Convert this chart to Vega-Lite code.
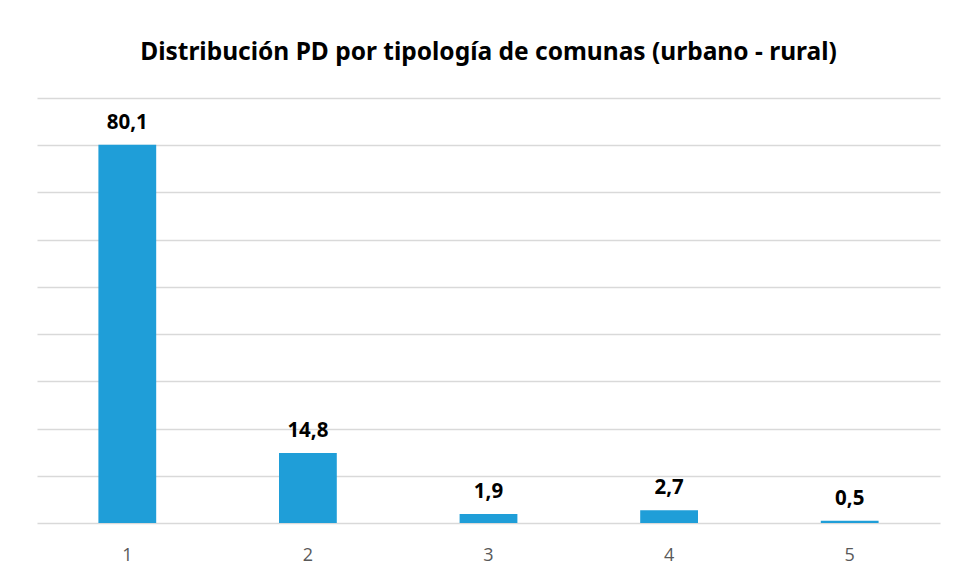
{
  "$schema": "https://vega.github.io/schema/vega-lite/v6.json",
  "width": 903,
  "height": 425,
  "autosize": "none",
  "padding": {"left": 37, "top": 98, "right": 16, "bottom": 58},
  "background": "white",
  "config": {
    "view": {"stroke": null},
    "locale": {"number": {"decimal": ",", "thousands": ".", "grouping": [3], "currency": ["", ""]}}
  },
  "title": {
    "text": "Distribución PD por tipología de comunas (urbano - rural)",
    "font": "Noto Sans",
    "fontSize": 24.5,
    "fontWeight": "bold",
    "color": "#000000",
    "anchor": "middle",
    "offset": 33
  },
  "data": {
    "values": [
      {"tipo": "1", "pct": 80.1},
      {"tipo": "2", "pct": 14.8},
      {"tipo": "3", "pct": 1.9},
      {"tipo": "4", "pct": 2.7},
      {"tipo": "5", "pct": 0.5}
    ]
  },
  "encoding": {
    "x": {
      "field": "tipo",
      "type": "nominal",
      "scale": {"paddingInner": 0.68, "paddingOuter": 0.34},
      "axis": {
        "title": null,
        "labelAngle": 0,
        "ticks": false,
        "domain": false,
        "labelPadding": 23,
        "labelFontSize": 18,
        "labelFont": "Open Sans",
        "labelColor": "#595959",
        "grid": false
      }
    },
    "y": {
      "field": "pct",
      "type": "quantitative",
      "scale": {"domain": [0, 90], "nice": false},
      "axis": {
        "title": null,
        "labels": false,
        "ticks": false,
        "domain": false,
        "values": [0, 10, 20, 30, 40, 50, 60, 70, 80, 90],
        "gridColor": "#d9d9d9",
        "gridWidth": 1.5
      }
    }
  },
  "layer": [
    {"mark": {"type": "bar", "color": "#1F9ED8"}},
    {
      "mark": {"type": "text", "baseline": "bottom", "dy": -12, "fontSize": 20.5, "fontWeight": "bold", "font": "Noto Sans", "color": "#000000"},
      "encoding": {"text": {"field": "pct", "type": "quantitative", "format": ".1f"}}
    }
  ]
}
